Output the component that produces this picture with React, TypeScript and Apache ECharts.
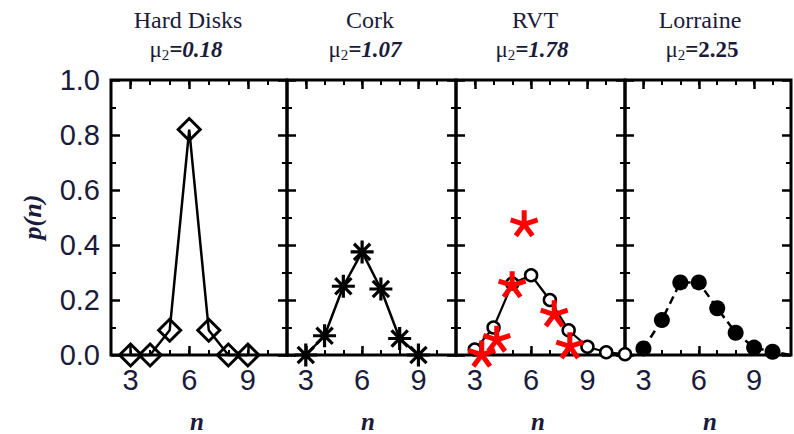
import React, { useEffect, useRef } from "react";
import * as echarts from "echarts";

// ---- data ----
const panelTitles = ["Hard Disks", "Cork", "RVT", "Lorraine"];
const mu2Values = ["0.18", "1.07", "1.78", "2.25"];
const xTickLabels = [3, 6, 9];

const nHard = [3, 4, 5, 6, 7, 8, 9];
const pHard = [0, 0, 0.09, 0.82, 0.09, 0, 0];

const nCork = [3, 4, 5, 6, 7, 8, 9];
const pCork = [0, 0.07, 0.25, 0.375, 0.24, 0.06, 0];

const nRvt = [3, 4, 5, 6, 7, 8, 9, 10, 11];
const pRvt = [0.02, 0.1, 0.26, 0.29, 0.2, 0.09, 0.03, 0.01, 0.003];

const nRvtRed = [3.37, 4.17, 4.99, 5.63, 7.23, 8.06];
const pRvtRed = [0.006, 0.06, 0.258, 0.48, 0.152, 0.036];

const nLor = [3, 4, 5, 6, 7, 8, 9, 10, 11];
const pLor = [0.024, 0.127, 0.264, 0.264, 0.17, 0.081, 0.027, 0.012, 0.0];

// ---- layout ----
const grids = [
  { left: 111, width: 176 },
  { left: 287, width: 169 },
  { left: 456, width: 169 },
  { left: 625, width: 168 },
];
const gridTop = 80;
const gridHeight = 275;
const titleX = [188, 370, 535, 700];
const muX = [186, 365, 532, 702];
const nLabelX = [197, 368, 538, 710];

const TXT = "#1a1a3a";
const ASTERISK = "path://M0,10L20,10M10,0L10,20M2.93,2.93L17.07,17.07M17.07,2.93L2.93,17.07";
const STAR5 =
  "path://M12,12L12,1M12,12L22.46,8.6M12,12L18.47,20.9M12,12L5.53,20.9M12,12L1.54,8.6";

function pairs(xs: number[], ys: number[]) {
  return xs.map((x, i) => [x, ys[i]]);
}

export default function App() {
  const ref = useRef<HTMLDivElement>(null);
  useEffect(() => {
    if (!ref.current) return;
    const chart = echarts.init(ref.current, null, { renderer: "svg" });

    const xAxes: any[] = [];
    const yAxes: any[] = [];
    grids.forEach((_, gi) => {
      ["bottom", "top"].forEach((pos) => {
        xAxes.push({
          gridIndex: gi,
          type: "value",
          position: pos,
          min: 2,
          max: 11,
          interval: 1,
          axisLine: { show: false },
          splitLine: { show: false },
          axisTick: { inside: true, length: 5, lineStyle: { color: "#000", width: 2 } },
          axisLabel: {
            show: pos === "bottom",
            formatter: (v: number) => (xTickLabels.includes(v) ? String(v) : ""),
            fontSize: 29,
            fontFamily: "Liberation Sans",
            color: TXT,
            margin: 10,
          },
        });
        xAxes.push({
          gridIndex: gi,
          type: "value",
          position: pos,
          min: 2,
          max: 11,
          axisLine: { show: false },
          splitLine: { show: false },
          axisTick: {
            inside: true,
            length: 9,
            customValues: xTickLabels,
            lineStyle: { color: "#000", width: 2.5 },
          },
          axisLabel: { show: false },
        });
      });
      ["left", "right"].forEach((pos) => {
        yAxes.push({
          gridIndex: gi,
          type: "value",
          position: pos,
          min: 0,
          max: 1,
          interval: 0.2,
          axisLine: { show: false },
          splitLine: { show: false },
          axisTick: { inside: true, length: 9, lineStyle: { color: "#000", width: 2.5 } },
          minorTick: { show: true, splitNumber: 2, length: 5, lineStyle: { color: "#000", width: 2 } },
          axisLabel: {
            show: gi === 0 && pos === "left",
            formatter: (v: number) => v.toFixed(1),
            fontSize: 29,
            fontFamily: "Liberation Sans",
            color: TXT,
            margin: 11,
          },
        });
      });
    });

    const xi = (gi: number) => gi * 4;
    const yi = (gi: number) => gi * 2;

    const series: any[] = [
      {
        type: "line",
        xAxisIndex: xi(0),
        yAxisIndex: yi(0),
        data: pairs(nHard, pHard),
        clip: false,
        symbol: "diamond",
        symbolSize: 22,
        itemStyle: { color: "rgba(0,0,0,0)", borderColor: "#000", borderWidth: 3 },
        lineStyle: { color: "#000", width: 2.5 },
      },
      {
        type: "line",
        xAxisIndex: xi(1),
        yAxisIndex: yi(1),
        data: pairs(nCork, pCork),
        clip: false,
        symbol: ASTERISK,
        symbolSize: 23,
        itemStyle: { color: "rgba(0,0,0,0)", borderColor: "#000", borderWidth: 3.2 },
        lineStyle: { color: "#000", width: 2.5 },
      },
      {
        type: "line",
        xAxisIndex: xi(2),
        yAxisIndex: yi(2),
        data: pairs(nRvt, pRvt),
        clip: false,
        symbol: "circle",
        symbolSize: 12,
        itemStyle: { color: "#fff", borderColor: "#000", borderWidth: 2.5 },
        lineStyle: { color: "#000", width: 2.2 },
      },
      {
        type: "scatter",
        z: 5,
        xAxisIndex: xi(2),
        yAxisIndex: yi(2),
        data: pairs(nRvtRed, pRvtRed),
        clip: false,
        symbol: STAR5,
        symbolKeepAspect: true,
        symbolSize: 27,
        itemStyle: { color: "rgba(0,0,0,0)", borderColor: "#ff0000", borderWidth: 5, opacity: 1 },
      },
      {
        type: "line",
        xAxisIndex: xi(3),
        yAxisIndex: yi(3),
        data: pairs(nLor, pLor).map((p, i) =>
          i === nLor.length - 1 ? { value: p, symbol: "none" } : p
        ),
        clip: false,
        symbol: "circle",
        symbolSize: 16,
        itemStyle: { color: "#000" },
        lineStyle: { color: "#000", width: 2.5, type: [8, 5] },
      },
    ];

    const graphics: any[] = [];
    panelTitles.forEach((t, i) => {
      graphics.push({
        type: "text",
        x: titleX[i],
        y: 20,
        style: {
          text: t,
          font: "24px 'Liberation Serif'",
          fill: TXT,
          textAlign: "center",
          textVerticalAlign: "middle",
        },
      });
      const italic = i < 3 ? "italic" : "normal";
      graphics.push({
        type: "text",
        x: muX[i],
        y: 49,
        style: {
          text: `{mu|μ}{sub|2}{val|=${mu2Values[i]}}`,
          textAlign: "center",
          textVerticalAlign: "middle",
          fill: TXT,
          rich: {
            mu: { fontSize: 23, fontFamily: "Liberation Serif", fill: TXT, lineHeight: 26 },
            sub: {
              fontSize: 15,
              fontFamily: "Liberation Serif",
              fill: TXT,
              verticalAlign: "bottom",
              lineHeight: 26,
              padding: [9, 0, 0, 0],
            },
            val: {
              fontSize: 23,
              fontFamily: "Liberation Serif",
              fontWeight: "bold",
              fontStyle: italic,
              fill: TXT,
              lineHeight: 26,
            },
          },
        },
      });
      graphics.push({
        type: "text",
        x: nLabelX[i],
        y: 421,
        style: {
          text: "n",
          font: "italic bold 25px 'Liberation Serif'",
          fill: TXT,
          textAlign: "center",
          textVerticalAlign: "middle",
        },
      });
    });
    graphics.push({
      type: "text",
      x: 32,
      y: 217,
      rotation: Math.PI / 2,
      style: {
        text: "p(n)",
        font: "italic bold 26px 'Liberation Serif'",
        fill: TXT,
        textAlign: "center",
        textVerticalAlign: "middle",
      },
    });

    chart.setOption({
      animation: false,
      backgroundColor: "#fff",
      grid: grids.map((g) => ({
        left: g.left,
        top: gridTop,
        width: g.width,
        height: gridHeight,
        show: true,
        borderColor: "#000",
        borderWidth: 3,
        backgroundColor: "rgba(0,0,0,0)",
      })),
      xAxis: xAxes,
      yAxis: yAxes,
      series,
      graphic: graphics,
    });
    return () => chart.dispose();
  }, []);

  return (
    <div
      ref={ref}
      style={{ position: "absolute", left: 0, top: 0, width: 794, height: 434 }}
    />
  );
}
